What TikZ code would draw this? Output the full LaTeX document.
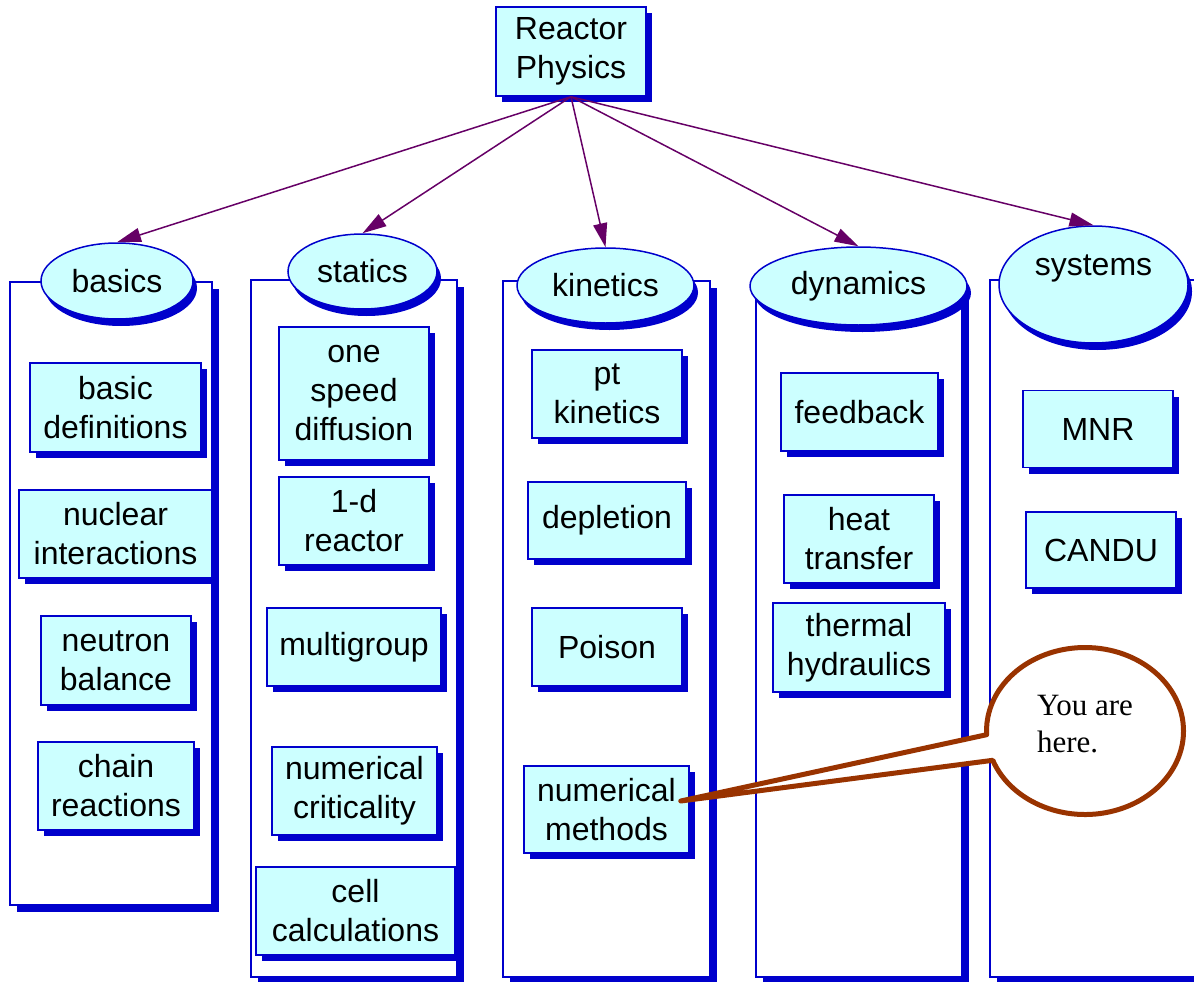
\documentclass[tikz,border=0pt]{standalone}
\usepackage{fontspec}
\setmainfont{Liberation Sans}
\newfontfamily\notefont{Liberation Serif}
\usetikzlibrary{shapes.geometric,shapes.callouts,shadows,arrows.meta}
\definecolor{boxfill}{HTML}{CCFFFF}
\definecolor{boxline}{HTML}{0000CC}
\definecolor{linkcol}{HTML}{660066}
\definecolor{notecol}{HTML}{993300}
\tikzset{
  item/.style={rectangle, draw=boxline, line width=1.5pt, fill=boxfill,
    drop shadow={shadow xshift=6pt, shadow yshift=-6pt, fill=boxline, opacity=1}},
  column/.style={rectangle, draw=boxline, line width=1.2pt, fill=white,
    drop shadow={shadow xshift=7pt, shadow yshift=-7pt, fill=boxline, opacity=1}},
  topic/.style={ellipse, draw=boxline, line width=1.5pt, fill=boxfill,
    drop shadow={shadow xshift=4pt, shadow yshift=-7pt, fill=boxline, opacity=1}},
  link/.style={-{Triangle[length=24pt,width=14pt]}, draw=linkcol, line width=1.5pt},
  balloon/.style={ellipse callout, draw=notecol, line width=5pt, fill=white,
    line join=round, callout pointer arc=18},
  notetext/.style={align=left, font=\notefont\fontsize{31}{37}\selectfont}
}
\begin{document}
\begin{tikzpicture}[x=1pt,y=-1pt,
    every node/.style={font=\fontsize{32}{39}\selectfont, align=center, inner sep=0pt}]
  \useasboundingbox (0,0) rectangle (1194,982);
  % columns
  \node[column, minimum width=202, minimum height=623] (col1) at (111,593.5) {};
  \node[column, minimum width=206, minimum height=697] (col2) at (354,628.5) {};
  \node[column, minimum width=207, minimum height=696] (col3) at (606.5,629) {};
  \node[column, minimum width=206, minimum height=695] (col4) at (859,629.5) {};
  \node[column, minimum width=207, minimum height=697] (col5) at (1093.5,628.5) {};
  % root and topics
  \node[item, minimum width=150, minimum height=89] (top) at (571,51.5) {Reactor\\Physics};
  \node[topic, minimum width=152, minimum height=76] (basics) at (117,281) {basics};
  \node[topic, minimum width=149, minimum height=75] (statics) at (362.5,271.5) {statics};
  \node[topic, minimum width=177, minimum height=75] (kinetics) at (605.5,285.5) {kinetics};
  \node[topic, minimum width=217, minimum height=78] (dynamics) at (858.5,286) {dynamics};
  \node[topic, minimum width=189, minimum height=117,
    label={[yshift=16pt]center:systems}] (systems) at (1093.5,284.5) {};
  % basics
  \node[item, minimum width=171, minimum height=89] (defs) at (115.5,407.5) {basic\\definitions};
  \node[item, minimum width=193, minimum height=88] (nuclear) at (115.5,534) {nuclear\\interactions};
  \node[item, minimum width=150, minimum height=89] (balance) at (116,660.5) {neutron\\balance};
  \node[item, minimum width=156, minimum height=88] (chain) at (116,786) {chain\\reactions};
  % statics
  \node[item, minimum width=150, minimum height=133] (onespeed) at (354,393.5) {one\\speed\\diffusion};
  \node[item, minimum width=150, minimum height=88] (oned) at (354,521) {1-d\\reactor};
  \node[item, minimum width=174, minimum height=78] (multi) at (354,647) {multigroup};
  \node[item, minimum width=165, minimum height=88] (numcrit) at (354.5,791) {numerical\\criticality};
  \node[item, minimum width=199, minimum height=88] (cell) at (355.5,911) {cell\\calculations};
  % kinetics
  \node[item, minimum width=150, minimum height=88] (ptkin) at (607,394) {pt\\kinetics};
  \node[item, minimum width=158, minimum height=77] (depl) at (607,520.5) {depletion};
  \node[item, minimum width=150, minimum height=78] (poison) at (607,647) {Poison};
  \node[item, minimum width=165, minimum height=87] (nummeth) at (606.5,809.5) {numerical\\methods};
  % dynamics
  \node[item, minimum width=157, minimum height=78] (feedback) at (859.5,412) {feedback};
  \node[item, minimum width=150, minimum height=88] (heat) at (859,539) {heat\\transfer};
  \node[item, minimum width=172, minimum height=89] (thermal) at (859,647.5) {thermal\\hydraulics};
  % systems
  \node[item, minimum width=150, minimum height=77] (mnr) at (1098,429) {MNR};
  \node[item, minimum width=150, minimum height=76] (candu) at (1101,550) {CANDU};
  \begin{scope}[link]
    \draw (top.south) to (basics.north);
    \draw (top.south) to (statics.north);
    \draw (top.south) to (kinetics.north);
    \draw (top.south) to (dynamics.north);
    \draw (top.south) to (systems.north);
  \end{scope}
  % callout
  \node[balloon, minimum width=197, minimum height=167,
    callout absolute pointer={([xshift=-9pt,yshift=8.5pt]nummeth.east)},
    label={[notetext, yshift=7pt]center:You are\\here.}]
    (here) at (1085,731) {};
\end{tikzpicture}
\end{document}
